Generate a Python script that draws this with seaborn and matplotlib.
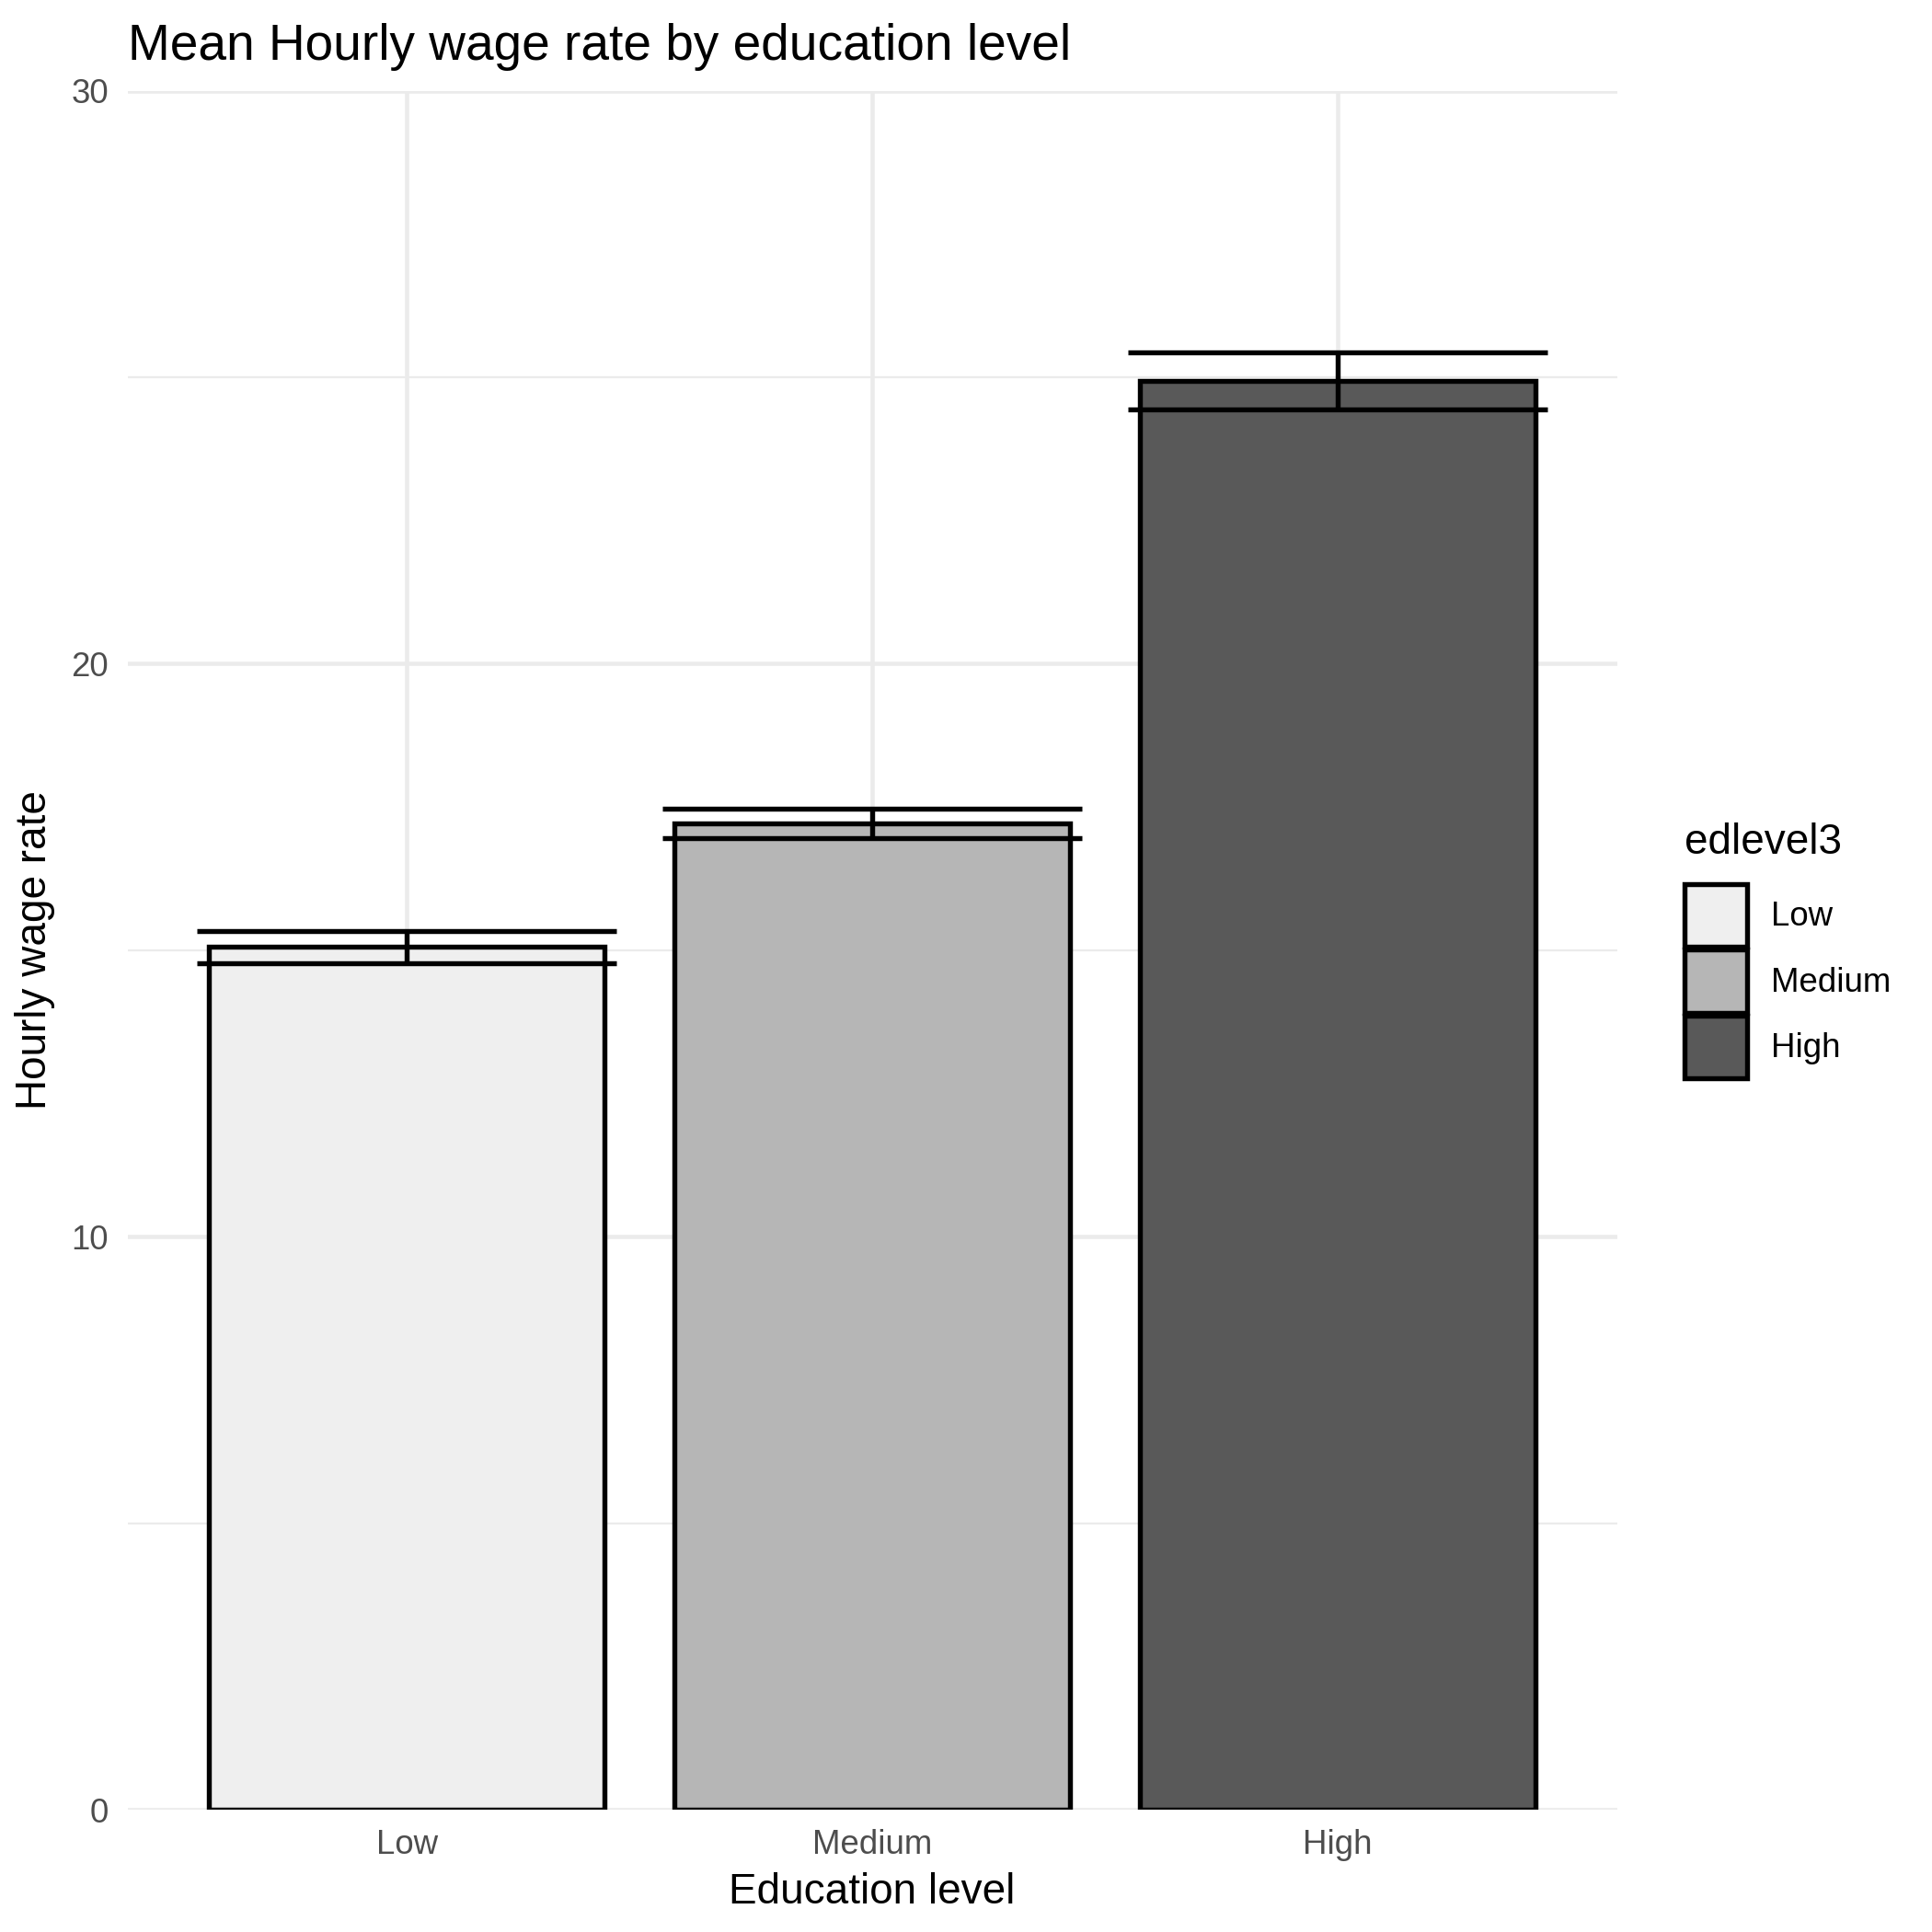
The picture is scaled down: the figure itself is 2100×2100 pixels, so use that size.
import matplotlib
matplotlib.use("Agg")
import matplotlib.pyplot as plt
import seaborn as sns
import pandas as pd

# valores
edlevels = ["Low", "Medium", "High"]
mean_wage = [15.06, 17.21, 24.93]
err_low = [14.78, 16.96, 24.44]
err_high = [15.33, 17.47, 25.43]
bar_colors = ["#EFEFEF", "#B6B6B6", "#595959"]

df = pd.DataFrame({"edlevel3": edlevels, "wage": mean_wage,
                   "lo": err_low, "hi": err_high})

sns.set_theme(style="white")
plt.rcParams["font.family"] = ["Liberation Sans", "DejaVu Sans"]
plt.rcParams["text.color"] = "black"
plt.rcParams["axes.labelcolor"] = "black"

fig = plt.figure(figsize=(7, 7), dpi=300)
ax = fig.add_axes([0.066, 0.0633, 0.771, 0.8897])

sns.barplot(data=df, x="edlevel3", y="wage", hue="edlevel3",
            palette=bar_colors, order=edlevels, hue_order=edlevels,
            width=0.85, dodge=False, errorbar=None, legend=True,
            edgecolor="black", linewidth=1.3, ax=ax, zorder=2)

# barras de erro (largura 0.9)
xs = range(len(edlevels))
ax.vlines(list(xs), df["lo"], df["hi"], color="black", lw=1.3, zorder=3)
for i in xs:
    ax.hlines([df["lo"][i], df["hi"][i]], i - 0.45, i + 0.45,
              color="black", lw=1.3, zorder=3)

ax.set_xlim(-0.6, 2.6)
ax.set_ylim(0, 30)
ax.set_yticks([0, 10, 20, 30])
ax.set_yticks([5, 15, 25], minor=True)
ax.grid(True, which="major", color="#EBEBEB", lw=1.1, zorder=0)
ax.grid(True, which="minor", axis="y", color="#EBEBEB", lw=0.55, zorder=0)
ax.set_axisbelow(True)
for s in ax.spines.values():
    s.set_visible(False)
ax.tick_params(axis="both", which="both", length=0, labelsize=8.8,
               labelcolor="#4D4D4D", pad=5)

ax.set_xlabel("Education level", fontsize=11, labelpad=3, color="black")
ax.set_ylabel("Hourly wage rate", fontsize=11, labelpad=4, color="black")
ax.set_title("Mean Hourly wage rate by education level", fontsize=13.2,
             loc="left", pad=8, color="black")

sns.move_legend(ax, loc="center left", bbox_to_anchor=(1.025, 0.5),
                title="edlevel3", frameon=False, fontsize=8.8,
                title_fontsize=11, handlelength=1.85, handleheight=2.5,
                labelspacing=0.08, handletextpad=0.72, alignment="left",
                borderaxespad=0.5)
leg = ax.get_legend()
leg._legend_box.sep = 5.5  # espaço entre título e chaves
leg.get_title().set_color("black")
for t in leg.get_texts():
    t.set_color("black")
for h in leg.get_patches():
    h.set_edgecolor("black")
    h.set_linewidth(1.3)

fig.savefig("out.png", dpi=300)
